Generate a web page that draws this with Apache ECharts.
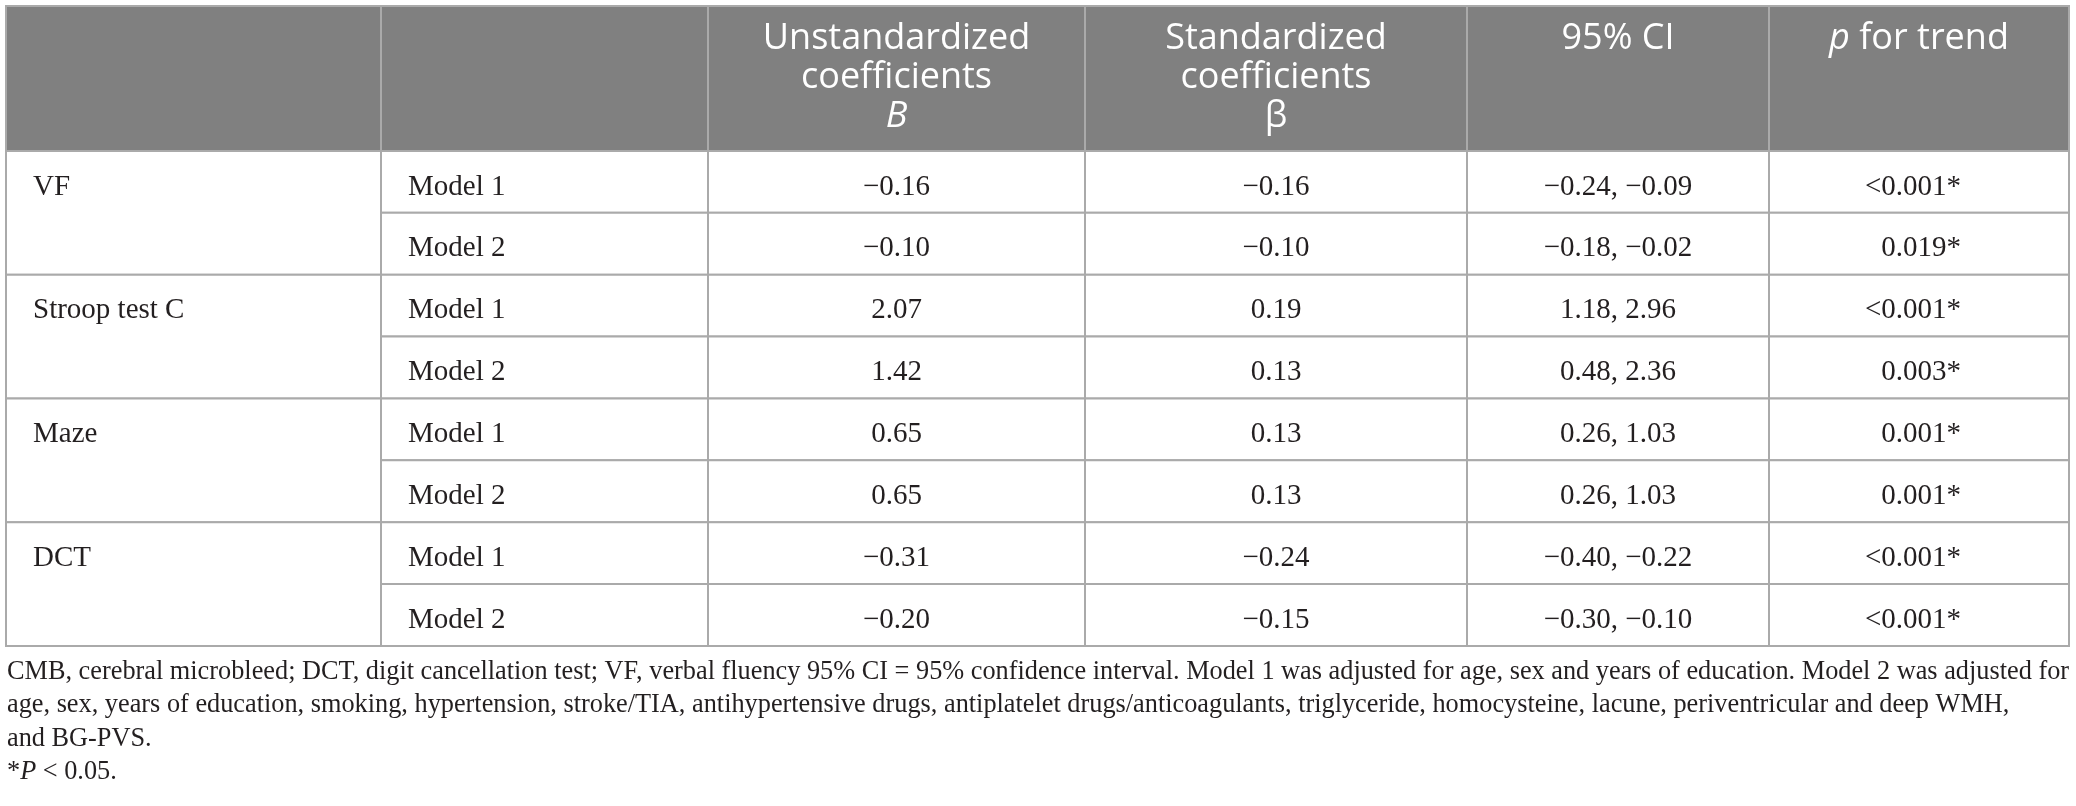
<!DOCTYPE html>
<html>
<head>
<meta charset="utf-8">
<script src="https://cdn.jsdelivr.net/npm/echarts@6/dist/echarts.min.js"></script>
<style>
  html, body { margin: 0; padding: 0; background: #fff; }
  #main { width: 2076px; height: 806px; }
</style>
</head>
<body>
<div id="main"></div>
<script>
// table content
const headers = ['', '', 'Unstandardized\ncoefficients\n{i|B}', 'Standardized\ncoefficients\n\u03b2', '95% CI', '{i|p} for trend'];
const measures = ['VF', 'Stroop test C', 'Maze', 'DCT'];
const models = ['Model 1', 'Model 2'];
const unstdB = [-0.16, -0.10, 2.07, 1.42, 0.65, 0.65, -0.31, -0.20];
const stdBeta = [-0.16, -0.10, 0.19, 0.13, 0.13, 0.13, -0.24, -0.15];
const ciLow = [-0.24, -0.18, 1.18, 0.48, 0.26, 0.26, -0.40, -0.30];
const ciHigh = [-0.09, -0.02, 2.96, 2.36, 1.03, 1.03, -0.22, -0.10];
const pTrend = ['<0.001*', '0.019*', '<0.001*', '0.003*', '0.001*', '0.001*', '<0.001*', '<0.001*'];
const footnotes = [
  'CMB, cerebral microbleed; DCT, digit cancellation test; VF, verbal fluency 95% CI = 95% confidence interval. Model 1 was adjusted for age, sex and years of education. Model 2 was adjusted for',
  'age, sex, years of education, smoking, hypertension, stroke/TIA, antihypertensive drugs, antiplatelet drugs/anticoagulants, triglyceride, homocysteine, lacune, periventricular and deep WMH,',
  'and BG-PVS.',
  '*{i|P} < 0.05.'
];

// layout
const colWidths = [375, 327, 377, 382, 302, 300];
const headerUnits = 2.343;   // header height in body-row units
const nRows = measures.length * models.length;
const edges = [0];
colWidths.forEach(function (w) { edges.push(edges[edges.length - 1] + w); });
function rowTop(r) { return r === 0 ? 0 : headerUnits + r - 1; }

const fmt = function (v) { return (v < 0 ? '\u2212' : '') + Math.abs(v).toFixed(2); };

// build cell list
const cells = [];
headers.forEach(function (h, c) {
  cells.push({ c0: c, c1: c + 1, r0: 0, r1: 1, text: h, kind: 'head' });
});
measures.forEach(function (m, i) {
  cells.push({ c0: 0, c1: 1, r0: 1 + i * 2, r1: 3 + i * 2, text: m, kind: 'left' });
  models.forEach(function (md, j) {
    const k = i * 2 + j;
    const r = 1 + k;
    cells.push({ c0: 1, c1: 2, r0: r, r1: r + 1, text: md, kind: 'left' });
    cells.push({ c0: 2, c1: 3, r0: r, r1: r + 1, text: fmt(unstdB[k]), kind: 'mid' });
    cells.push({ c0: 3, c1: 4, r0: r, r1: r + 1, text: fmt(stdBeta[k]), kind: 'mid' });
    cells.push({ c0: 4, c1: 5, r0: r, r1: r + 1, text: fmt(ciLow[k]) + ', ' + fmt(ciHigh[k]), kind: 'mid' });
    cells.push({ c0: 5, c1: 6, r0: r, r1: r + 1, text: pTrend[k], kind: 'right' });
  });
});

const lineColor = '#aaaaaa';
const serif = '"Liberation Serif", "Times New Roman", serif';
const sans = '"Open Sans", "Noto Sans", sans-serif';
const bodyColor = '#231f20';

function renderCell(params, api) {
  const cell = cells[params.dataIndex];
  const p0 = api.coord([edges[cell.c0], rowTop(cell.r0)]);
  const p1 = api.coord([edges[cell.c1], rowTop(cell.r1)]);
  const pRow = api.coord([edges[cell.c1], rowTop(cell.r0 + 1)]);
  const x = p0[0], y = p0[1], w = p1[0] - p0[0], h = p1[1] - p0[1];
  const children = [{
    type: 'rect',
    shape: { x: x, y: y, width: w, height: h },
    style: { fill: cell.kind === 'head' ? '#808080' : '#ffffff', stroke: lineColor, lineWidth: 2 }
  }];
  if (cell.text) {
    let tx, ty, align, vAlign, st;
    if (cell.kind === 'head') {
      tx = x + w / 2; ty = y + 13; align = 'center'; vAlign = 'top';
      st = { fill: '#ffffff', fontFamily: sans, fontSize: 36, lineHeight: 39,
        rich: { i: { fontStyle: 'italic', fontFamily: sans, fontSize: 36, lineHeight: 39, fill: '#ffffff' } } };
    } else {
      const cy = (y + pRow[1]) / 2 + 5;
      ty = cy; vAlign = 'middle';
      if (cell.kind === 'left') { tx = x + 27; align = 'left'; }
      else if (cell.kind === 'mid') { tx = x + w / 2; align = 'center'; }
      else { tx = x + w / 2 + 42; align = 'right'; }
      st = { fill: bodyColor, fontFamily: serif, fontSize: 29 };
    }
    st.text = cell.text;
    st.align = align;
    st.verticalAlign = vAlign;
    children.push({ type: 'text', x: tx, y: ty, style: st });
  }
  return { type: 'group', children: children };
}

const chart = echarts.init(document.getElementById('main'), null, { renderer: 'canvas' });
chart.setOption({
  animation: false,
  backgroundColor: '#ffffff',
  title: {
    left: 7,
    top: 655,
    padding: 0,
    text: footnotes.join('\n'),
    textStyle: {
      fontFamily: serif, fontSize: 26.3, fontWeight: 'normal', color: bodyColor, lineHeight: 33.5,
      rich: { i: { fontFamily: serif, fontSize: 26.3, fontStyle: 'italic', color: bodyColor, lineHeight: 33.5 } }
    }
  },
  grid: { left: 6, top: 6, width: edges[edges.length - 1], height: 640 },
  xAxis: { type: 'value', min: 0, max: edges[edges.length - 1], show: false },
  yAxis: { type: 'value', min: 0, max: headerUnits + nRows, inverse: true, show: false },
  series: [{
    type: 'custom',
    renderItem: renderCell,
    data: cells.map(function (c) {
      return [(edges[c.c0] + edges[c.c1]) / 2, (rowTop(c.r0) + rowTop(c.r1)) / 2];
    })
  }]
});
</script>
</body>
</html>
